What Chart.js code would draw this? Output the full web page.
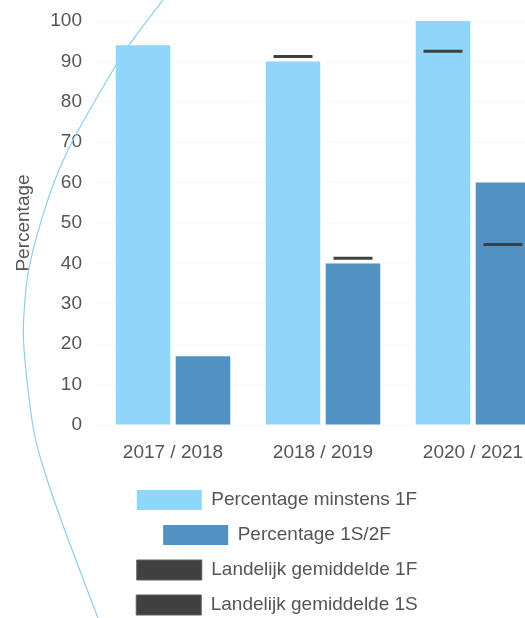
<!DOCTYPE html>
<html>
<head>
<meta charset="utf-8">
<script src="https://cdn.jsdelivr.net/npm/chart.js@4/dist/chart.umd.min.js"></script>
<style>
html,body{margin:0;padding:0;width:525px;height:618px;overflow:hidden;background:#fff;}
#wrap{position:absolute;left:0;top:0;width:548px;height:625px;}
canvas{display:block;}
</style>
</head>
<body>
<div id="wrap"><canvas id="c" width="548" height="625"></canvas></div>
<script>
// ---- data ----
const categories = ['2017 / 2018', '2018 / 2019', '2020 / 2021'];
const seriesNames = ['Percentage minstens 1F', 'Percentage 1S/2F', 'Landelijk gemiddelde 1F', 'Landelijk gemiddelde 1S'];
const pctMinstens1F = [94, 90, 100];
const pct1S2F = [17, 40, 60];
const landelijk1F = [null, 91.2, 92.5];
const landelijk1S = [null, 41.3, 44.7];
const yMin = 0, yMax = 100, yStep = 10;
const yTitle = 'Percentage';

// ---- style ----
const FONT = "'Liberation Sans', Arial, Helvetica, sans-serif";
const TEXT = '#555555';
const LIGHT = '#8fd6fa';
const DARK = '#5292c2';
const MARK = '#404040';
const CAT_PCT = 0.8, BAR_PCT = 0.91, MARK_PCT = 0.65;
const MARK_HALF = 0.37; // half thickness of a national-average marker, in axis units

// national averages drawn as thin floating bars centred on the value
const markBar = v => v === null ? null : [v - MARK_HALF, v + MARK_HALF];

// decorative arc (background ornament, not data)
const decoPath = [[166,-4],[130,43],[117,63],[78,130],[63,160],[47,200],[28,267],[24,310],[23,335],[25,363],[30,407],[35,440],[47,480],[62,523],[77,563],[98,618],[100,624]];
const decoPlugin = {
  id: 'deco',
  beforeDatasetsDraw(chart) {
    const ctx = chart.ctx;
    ctx.save();
    ctx.strokeStyle = '#8fcdee';
    ctx.lineWidth = 1.2;
    ctx.beginPath();
    ctx.moveTo(decoPath[0][0], decoPath[0][1]);
    for (let i = 1; i < decoPath.length - 1; i++) {
      const mx = (decoPath[i][0] + decoPath[i + 1][0]) / 2;
      const my = (decoPath[i][1] + decoPath[i + 1][1]) / 2;
      ctx.quadraticCurveTo(decoPath[i][0], decoPath[i][1], mx, my);
    }
    const last = decoPath[decoPath.length - 1];
    ctx.lineTo(last[0], last[1]);
    ctx.stroke();
    ctx.restore();
  }
};

const legendStyle = [
  { fill: LIGHT, stroke: LIGHT, lw: 0 },
  { fill: DARK, stroke: DARK, lw: 0 },
  { fill: MARK, stroke: '#5e5e5e', lw: 1 },
  { fill: MARK, stroke: '#5e5e5e', lw: 1 }
];

function noPad(scale) {
  scale.paddingLeft = 0; scale.paddingRight = 0; scale.paddingTop = 0; scale.paddingBottom = 0;
}

new Chart(document.getElementById('c'), {
  type: 'bar',
  data: {
    labels: categories,
    datasets: [
      { label: seriesNames[0], data: pctMinstens1F, backgroundColor: LIGHT, stack: 'a', order: 1,
        categoryPercentage: CAT_PCT, barPercentage: BAR_PCT },
      { label: seriesNames[1], data: pct1S2F, backgroundColor: DARK, stack: 'b', order: 1,
        categoryPercentage: CAT_PCT, barPercentage: BAR_PCT },
      { label: seriesNames[2], data: landelijk1F.map(markBar), backgroundColor: MARK, stack: 'a', order: 0,
        categoryPercentage: CAT_PCT, barPercentage: MARK_PCT },
      { label: seriesNames[3], data: landelijk1S.map(markBar), backgroundColor: MARK, stack: 'b', order: 0,
        categoryPercentage: CAT_PCT, barPercentage: MARK_PCT }
    ]
  },
  options: {
    responsive: false,
    animation: false,
    devicePixelRatio: 1,
    events: [],
    layout: { autoPadding: false, padding: { left: 6, right: 0, top: 21, bottom: 0 } },
    scales: {
      x: {
        type: 'category',
        offset: true,
        grid: { display: false, drawTicks: false },
        border: { display: false },
        ticks: { color: TEXT, font: { family: FONT, size: 19 }, padding: 16, maxRotation: 0 },
        afterFit(scale) { scale.height = 50; noPad(scale); }
      },
      y: {
        min: yMin,
        max: yMax,
        stacked: false,
        z: 1,
        border: { display: false },
        grid: { color: 'rgba(0,0,0,0.022)', drawTicks: false },
        ticks: { stepSize: yStep, color: TEXT, font: { family: FONT, size: 19 }, padding: 16 },
        title: { display: true, text: yTitle, color: TEXT, font: { family: FONT, size: 19 }, padding: { top: 6, bottom: 0 } },
        afterFit(scale) { scale.width = 92; noPad(scale); }
      }
    },
    plugins: {
      tooltip: { enabled: false },
      legend: {
        position: 'bottom',
        align: 'center',
        labels: {
          boxWidth: 65,
          boxHeight: 20,
          padding: 15,
          color: TEXT,
          font: { family: FONT, size: 19 },
          sort: (a, b) => a.datasetIndex - b.datasetIndex,
          generateLabels(chart) {
            const items = Chart.defaults.plugins.legend.labels.generateLabels(chart);
            items.forEach(it => {
              const s = legendStyle[it.datasetIndex];
              it.fillStyle = s.fill;
              it.strokeStyle = s.stroke;
              it.lineWidth = s.lw;
              it.lineDash = [];
            });
            return items;
          }
        }
      }
    }
  },
  plugins: [decoPlugin]
});
</script>
</body>
</html>
